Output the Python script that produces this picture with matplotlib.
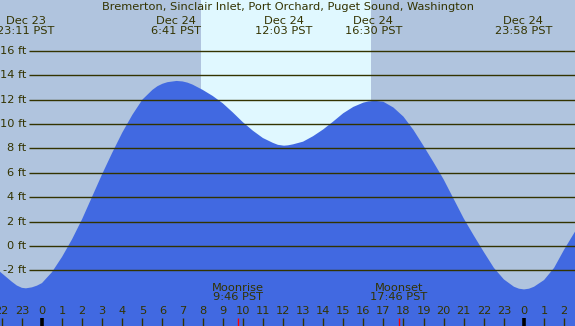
import matplotlib
matplotlib.use("Agg")
import matplotlib.pyplot as plt

# ---- data (hours relative to Dec 24 00:00 PST, height in ft) ----
hours = [-2.09, -1.5, -1.25, -1.0, -0.8, -0.5, -0.25, 0.0, 0.5, 1.0, 1.5, 2.0,
         2.5, 3.0, 3.5, 4.0, 4.5, 5.0, 5.5, 5.75, 6.0, 6.25, 6.7, 7.0, 7.25,
         7.5, 8.0, 8.5, 9.0, 9.5, 10.0, 10.5, 11.0, 11.5, 11.75, 12.05, 12.25,
         12.5, 13.0, 13.5, 14.0, 14.5, 15.0, 15.5, 16.0, 16.25, 16.58, 17.0,
         17.5, 18.0, 18.5, 19.0, 19.5, 20.0, 20.5, 21.0, 21.5, 22.0, 22.5,
         23.0, 23.5, 23.75, 24.0, 24.25, 24.5, 25.0, 25.5, 26.0, 26.54]
heights = [-2.12, -2.94, -3.25, -3.44, -3.48, -3.4, -3.26, -3.05, -2.15, -0.9,
           0.55, 2.2, 4.05, 5.9, 7.65, 9.3, 10.75, 12.0, 12.8, 13.1, 13.3,
           13.43, 13.53, 13.49, 13.39, 13.23, 12.8, 12.3, 11.7, 10.95, 10.15,
           9.45, 8.85, 8.45, 8.29, 8.22, 8.25, 8.33, 8.55, 9.0, 9.55, 10.2,
           10.88, 11.4, 11.75, 11.85, 11.9, 11.82, 11.35, 10.6, 9.5, 8.2, 6.85,
           5.45, 3.85, 2.25, 0.85, -0.5, -1.8, -2.75, -3.35, -3.51, -3.57,
           -3.51, -3.35, -2.8, -1.8, -0.3, 1.17]

extreme_times = [-0.817, 6.683, 12.05, 16.5, 23.967]
extreme_labels = ["Dec 23\n23:11 PST", "Dec 24\n6:41 PST", "Dec 24\n12:03 PST",
                  "Dec 24\n16:30 PST", "Dec 24\n23:58 PST"]

sunrise, sunset = 7.93, 16.37
moon_times = [9.767, 17.767]
moon_labels = ["Moonrise\n9:46 PST", "Moonset\n17:46 PST"]

grid_ft = [-2, 0, 2, 4, 6, 8, 10, 12, 14, 16]
tick_hours = list(range(-2, 27))
title = "Bremerton, Sinclair Inlet, Port Orchard, Puget Sound, Washington"

# ---- style ----
BG = "#b0c4de"
DAY = "#e0f8ff"
WATER = "#4169e1"
INK = "#333300"
FS = 8.2

W, H = 575, 326
fig = plt.figure(figsize=(W / 100, H / 100), dpi=100)
fig.patch.set_facecolor(BG)
ax = fig.add_axes([0, 0, 1, 1])
ax.set_facecolor(BG)
x0, x1 = -2.09, 26.54
y0, y1 = -6.57, 20.17
ax.set_xlim(x0, x1)
ax.set_ylim(y0, y1)
ax.axis("off")


def py(p):
    """pixel offset from top -> data y"""
    return y1 - (p / H) * (y1 - y0)


ax.axvspan(sunrise, sunset, color=DAY, zorder=0, lw=0)
ax.fill_between(hours, heights, y0, color=WATER, lw=0, zorder=1)

# grid lines with labels
xg = x0 + 29 / W * (x1 - x0)
for v in grid_ft:
    ax.plot([xg, x1], [v, v], color=INK, lw=1.0, zorder=2, solid_capstyle="butt")
    ax.text(xg - 0.12, v, f"{v} ft", ha="right", va="center", fontsize=FS,
            color=INK, zorder=3)

# title & extreme labels
ax.text(0.5, 1 - 7.0 / H, title, transform=ax.transAxes, ha="center",
        va="center", fontsize=FS, color=INK)
for t, lab in zip(extreme_times, extreme_labels):
    ax.text(t, py(26), lab, ha="center", va="center",
            fontsize=FS, color=INK, linespacing=0.92)

# hour ticks
ytick_top = py(H - 8)
for h in tick_hours:
    if h % 24 == 0:
        ax.plot([h, h], [y0, ytick_top], color="black", lw=2.6, zorder=3,
                solid_capstyle="butt")
    else:
        ax.plot([h, h], [y0, ytick_top], color=INK, lw=1.0, zorder=3,
                solid_capstyle="butt")
    ax.text(h, py(311.5), str(h % 24), ha="center", va="center", fontsize=FS,
            color=INK, zorder=3)

for t, lab in zip(moon_times, moon_labels):
    ax.plot([t, t], [y0, ytick_top], color="red", lw=1.0, zorder=3,
            solid_capstyle="butt")
    ax.text(t, py(292.5), lab, ha="center", va="center",
            fontsize=FS, color=INK, linespacing=0.92, zorder=3)

fig.savefig("out.png", dpi=100, facecolor=BG)
